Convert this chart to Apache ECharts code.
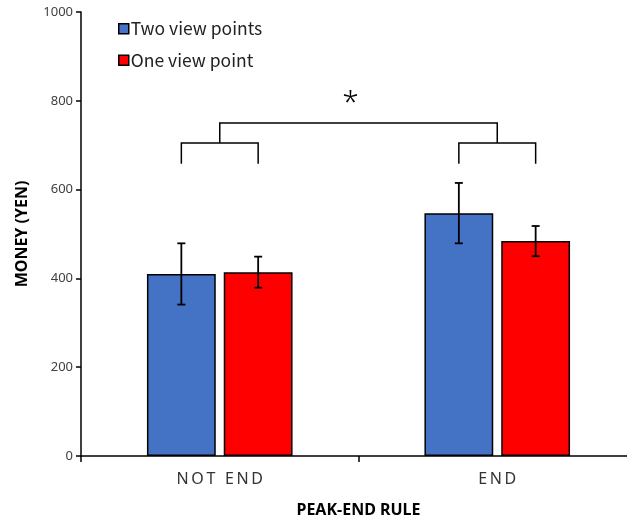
<!DOCTYPE html>
<html><head><meta charset="utf-8">
<script src="https://cdn.jsdelivr.net/npm/echarts@6/dist/echarts.min.js"></script>
<style>html,body{margin:0;padding:0;background:#fff}#c{width:627px;height:523px}</style>
</head><body><div id="c"></div>
<script>
const categories = ['NOT END', 'END'];
const seriesNames = ['Two view points', 'One view point'];
const twoViewPoints = [410, 547];
const oneViewPoint = [414, 484];
const twoViewErr = [69, 68];
const oneViewErr = [35, 34];
const bracketLeg = 658;
const bracketTop = 705;
const bridgeTop = 750;
const starValue = 794;
const sigLabel = '*';

const BAR_PCT = 0.248, GAP_PCT = 0.116;
const chart = echarts.init(document.getElementById('c'));

function barOffset(api, s) {
  const band = api.size([1, 0])[0];
  const bw = band * BAR_PCT;
  const gap = bw * GAP_PCT;
  return (s === 0 ? -1 : 1) * (bw + gap) / 2;
}

function errSeries(s, vals, errs) {
  return {
    type: 'custom', name: 'err' + s, z: 5, silent: true,
    data: vals.map((v, i) => [i, v - errs[i], v + errs[i]]),
    renderItem(params, api) {
      const lo = api.coord([api.value(0), api.value(1)]);
      const hi = api.coord([api.value(0), api.value(2)]);
      const x = lo[0] + barOffset(api, s);
      const cap = 4;
      const st = { stroke: '#000', lineWidth: 1.8 };
      return { type: 'group', children: [
        { type: 'line', shape: { x1: x, y1: lo[1], x2: x, y2: hi[1] }, style: st },
        { type: 'line', shape: { x1: x - cap, y1: lo[1], x2: x + cap, y2: lo[1] }, style: st },
        { type: 'line', shape: { x1: x - cap, y1: hi[1], x2: x + cap, y2: hi[1] }, style: st }
      ]};
    }
  };
}

const option = {
  animation: false,
  backgroundColor: '#fff',
  grid: { left: 81, width: 555, top: 12, height: 444, outerBoundsMode: 'none', containLabel: false },
  legend: {
    data: seriesNames, orient: 'vertical', left: 113, top: 15,
    icon: 'rect', itemWidth: 10, itemHeight: 10, itemGap: 14,
    textStyle: { fontSize: 17.5, color: '#222', fontFamily: 'Noto Sans CJK SC', padding: [0, 0, 0, -3] },
    itemStyle: { borderColor: '#000', borderWidth: 1.5 }
  },
  xAxis: {
    type: 'category', data: categories,
    name: 'PEAK-END RULE', nameLocation: 'middle', nameGap: 46,
    nameTextStyle: { fontSize: 16, fontWeight: 'bold', color: '#000', fontFamily: 'Noto Sans' },
    axisLine: { lineStyle: { color: '#000', width: 1.5 } },
    axisTick: { show: true, length: 6, lineStyle: { color: '#000', width: 1.5 } },
    axisLabel: { fontSize: 16, color: '#333', margin: 15, fontFamily: 'Noto Sans',
      formatter: v => v.split('').join('\u2009') }
  },
  yAxis: {
    type: 'value', min: 0, max: 1000, interval: 200,
    name: 'MONEY (YEN)', nameLocation: 'middle', nameGap: 51,
    nameTextStyle: { fontSize: 16, fontWeight: 'bold', color: '#000', fontFamily: 'Noto Sans' },
    axisLine: { show: true, lineStyle: { color: '#000', width: 1.5 } },
    axisTick: { show: true, length: 5, lineStyle: { color: '#000', width: 1.5 } },
    splitLine: { show: false },
    axisLabel: { fontSize: 13, color: '#404040', margin: 8, fontFamily: 'Noto Sans',
      formatter: v => String(v) }
  },
  series: [
    { type: 'bar', name: seriesNames[0], data: twoViewPoints, barWidth: (BAR_PCT * 100) + '%', barGap: (GAP_PCT * 100) + '%',
      itemStyle: { color: '#4472C4', borderColor: '#000', borderWidth: 1.5 } },
    { type: 'bar', name: seriesNames[1], data: oneViewPoint, barWidth: (BAR_PCT * 100) + '%', barGap: (GAP_PCT * 100) + '%',
      itemStyle: { color: '#FF0000', borderColor: '#000', borderWidth: 1.5 } },
    errSeries(0, twoViewPoints, twoViewErr),
    errSeries(1, oneViewPoint, oneViewErr),
    {
      type: 'custom', name: 'bracket', z: 6, silent: true,
      data: [[0, 1]],
      renderItem(params, api) {
        const st = { stroke: '#000', lineWidth: 1.5, fill: null };
        const ch = [];
        const tops = [];
        [0, 1].forEach(ci => {
          const c = api.coord([ci, bracketTop]);
          const l = api.coord([ci, bracketLeg]);
          const xl = c[0] + barOffset(api, 0), xr = c[0] + barOffset(api, 1);
          ch.push({ type: 'polyline', shape: { points: [[xl, l[1]], [xl, c[1]], [xr, c[1]], [xr, l[1]]] }, style: st });
          tops.push([c[0], c[1]]);
        });
        const b = api.coord([0, bridgeTop])[1];
        ch.push({ type: 'polyline', shape: { points: [[tops[0][0], tops[0][1]], [tops[0][0], b], [tops[1][0], b], [tops[1][0], tops[1][1]]] }, style: st });
        const s = api.coord([0, starValue])[1];
        ch.push({ type: 'text', style: { text: sigLabel, x: (tops[0][0] + tops[1][0]) / 2 - 8, y: s, align: 'center', verticalAlign: 'middle', fontSize: 30, fontWeight: 300, fill: '#000', fontFamily: 'Noto Sans' } });
        return { type: 'group', children: ch };
      }
    }
  ]
};
chart.setOption(option);
</script></body></html>
